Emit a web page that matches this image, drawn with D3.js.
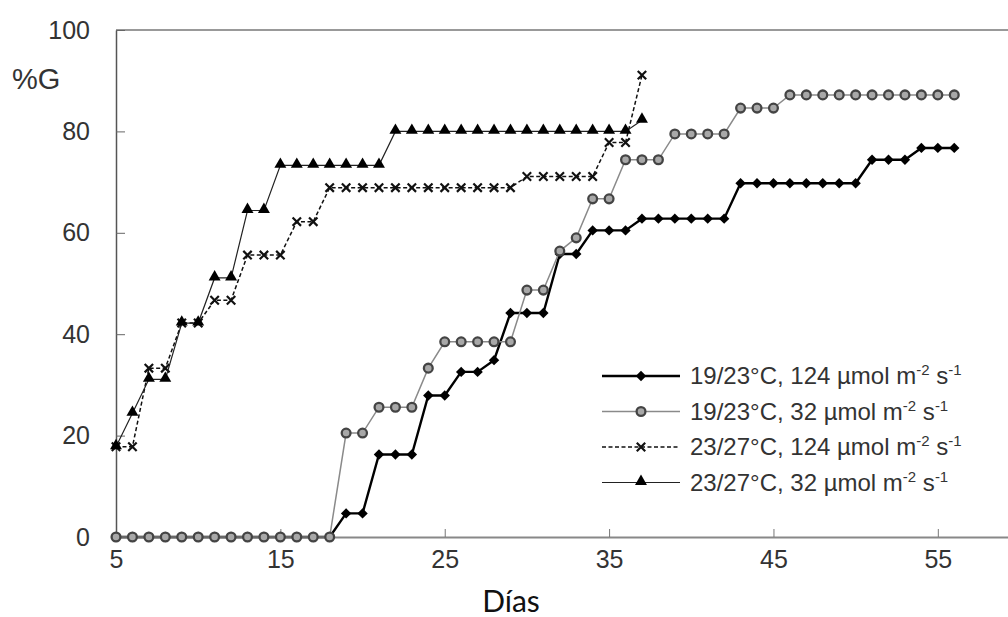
<!DOCTYPE html>
<html>
<head>
<meta charset="utf-8">
<title>%G por días</title>
<script src="https://d3js.org/d3.v7.min.js"></script>
<style>
  body { margin: 0; background: #fff; }
  text { font-family: "Liberation Sans", Arial, sans-serif; fill: #333; }
</style>
</head>
<body>
<div id="container"></div>
<script>
// ---------------- data ----------------
const days = [5,6,7,8,9,10,11,12,13,14,15,16,17,18,19,20,21,22,23,24,25,26,27,28,29,30,
              31,32,33,34,35,36,37,38,39,40,41,42,43,44,45,46,47,48,49,50,51,52,53,54,55,56];

// 19/23°C, 124 µmol m-2 s-1
const g19_124 = [0,0,0,0,0,0,0,0,0,0,0,0,0,0,4.65,4.65,16.28,16.28,16.28,27.91,27.91,32.56,32.56,34.88,
                 44.19,44.19,44.19,55.81,55.81,60.47,60.47,60.47,62.79,62.79,62.79,62.79,62.79,62.79,
                 69.77,69.77,69.77,69.77,69.77,69.77,69.77,69.77,74.42,74.42,74.42,76.74,76.74,76.74];
// 19/23°C, 32 µmol m-2 s-1
const g19_32 = [0,0,0,0,0,0,0,0,0,0,0,0,0,0,20.5,20.5,25.6,25.6,25.6,33.3,38.5,38.5,38.5,38.5,38.5,
                48.7,48.7,56.4,59.0,66.7,66.7,74.4,74.4,74.4,79.5,79.5,79.5,79.5,84.6,84.6,84.6,
                87.2,87.2,87.2,87.2,87.2,87.2,87.2,87.2,87.2,87.2,87.2];
// 23/27°C, 124 µmol m-2 s-1 (days 5-37)
const g23_124 = [17.8,17.8,33.3,33.3,42.2,42.2,46.7,46.7,55.6,55.6,55.6,62.2,62.2,
                 68.9,68.9,68.9,68.9,68.9,68.9,68.9,68.9,68.9,68.9,68.9,68.9,
                 71.1,71.1,71.1,71.1,71.1,77.8,77.8,91.1];
// 23/27°C, 32 µmol m-2 s-1 (days 5-37)
const g23_32 = [17.8,24.4,31.1,31.1,42.2,42.2,51.1,51.1,64.4,64.4,
                73.3,73.3,73.3,73.3,73.3,73.3,73.3,
                80,80,80,80,80,80,80,80,80,80,80,80,80,80,80,82.2];

const xTicks = [5,15,25,35,45,55];
const yTicks = [0,20,40,60,80,100];

const series = [
  { id: "a", label: "19/23°C, 124 µmol m", values: g19_124 },
  { id: "b", label: "19/23°C, 32 µmol m",  values: g19_32 },
  { id: "c", label: "23/27°C, 124 µmol m", values: g23_124 },
  { id: "d", label: "23/27°C, 32 µmol m",  values: g23_32 }
];

// ---------------- setup ----------------
const width = 1008, height = 617;
const svg = d3.select("#container").append("svg")
    .attr("width", width).attr("height", height);

const x = d3.scaleLinear().domain([5, 60]).range([116, 1020]);
const y = d3.scaleLinear().domain([0, 100]).range([537, 30]);

const styles = {
  a: { stroke: "#000", width: 2.4, dash: null },
  b: { stroke: "#8a8a8a", width: 1.5, dash: null },
  c: { stroke: "#111", width: 1.5, dash: "4,2.5" },
  d: { stroke: "#222", width: 1.2, dash: null }
};

// ---------------- axes ----------------
svg.append("line")
    .attr("x1", x(5)).attr("x2", width)
    .attr("y1", y(100)).attr("y2", y(100))
    .attr("stroke", "#999").attr("stroke-width", 2);

const xAxis = svg.append("g")
    .attr("transform", "translate(0," + y(0) + ")")
    .call(d3.axisBottom(x).tickValues(xTicks).tickSizeInner(-8).tickSizeOuter(0).tickPadding(31));
xAxis.select(".domain").attr("stroke", "#888").attr("stroke-width", 2);
xAxis.selectAll(".tick line").attr("stroke", "#777");
xAxis.selectAll("text").attr("font-size", 25).attr("fill", "#333").attr("dy", 0)
    .attr("font-family", "Liberation Sans, Arial, sans-serif");

const yAxis = svg.append("g")
    .attr("transform", "translate(" + x(5) + ",0)")
    .call(d3.axisLeft(y).tickValues(yTicks).tickSizeInner(-9).tickSizeOuter(0).tickPadding(26));
yAxis.select(".domain").attr("stroke", "#555").attr("stroke-width", 1.5);
yAxis.selectAll(".tick line").attr("stroke", "#666");
yAxis.selectAll("text").attr("font-size", 25).attr("fill", "#333")
    .attr("font-family", "Liberation Sans, Arial, sans-serif");

svg.append("text").attr("x", 12).attr("y", 89)
    .attr("font-size", 29).text("%G");

svg.append("text").attr("x", 511).attr("y", 612)
    .attr("text-anchor", "middle")
    .style("font-family", "Lato, 'Open Sans', sans-serif")
    .style("fill", "#111")
    .attr("font-size", 30).text("Días");

// ---------------- markers ----------------
function drawMarker(g, id, cx, cy) {
  if (id === "a") {
    g.append("path").attr("d", d3.symbol(d3.symbolSquare, 54)())
      .attr("transform", "translate(" + cx + "," + cy + ") rotate(45)")
      .attr("fill", "#000");
  } else if (id === "b") {
    g.append("circle").attr("cx", cx).attr("cy", cy).attr("r", 4.4)
      .attr("fill", "#a8a8a8").attr("stroke", "#444").attr("stroke-width", 2.3);
  } else if (id === "c") {
    g.append("path").attr("d", d3.symbol(d3.symbolX, 48)())
      .attr("transform", "translate(" + cx + "," + cy + ")")
      .attr("stroke", "#111").attr("stroke-width", 2.2).attr("fill", "none");
  } else {
    g.append("path").attr("d", d3.symbol(d3.symbolTriangle, 62)())
      .attr("transform", "translate(" + cx + "," + (cy - 1) + ")")
      .attr("fill", "#000");
  }
}

// ---------------- lines ----------------
const line = d3.line()
    .x(function(d) { return x(d.day); })
    .y(function(d) { return y(d.v); });

series.forEach(function(s) {
  const pts = s.values.map(function(v, i) { return { day: days[i], v: v }; });
  const st = styles[s.id];
  const g = svg.append("g").attr("class", "series-" + s.id);
  g.append("path")
    .attr("d", line(pts))
    .attr("fill", "none")
    .attr("stroke", st.stroke)
    .attr("stroke-width", st.width)
    .attr("stroke-dasharray", st.dash);
  pts.forEach(function(p) { drawMarker(g, s.id, x(p.day), y(p.v)); });
});

// ---------------- legend ----------------
const legend = svg.append("g").attr("transform", "translate(602,376)");
series.forEach(function(s, i) {
  const st = styles[s.id];
  const row = legend.append("g").attr("transform", "translate(0," + (i * 35.5) + ")");
  row.append("line").attr("x1", 0).attr("x2", 78).attr("y1", 0).attr("y2", 0)
    .attr("stroke", st.stroke).attr("stroke-width", st.width)
    .attr("stroke-dasharray", st.dash);
  drawMarker(row, s.id, 39, 0);
  const t = row.append("text").attr("x", 88).attr("y", 8).attr("font-size", 24);
  t.append("tspan").text(s.label);
  t.append("tspan").attr("dy", -9).attr("font-size", 15).text("-2");
  t.append("tspan").attr("dy", 9).text(" s");
  t.append("tspan").attr("dy", -9).attr("font-size", 15).text("-1");
});
</script>
</body>
</html>
